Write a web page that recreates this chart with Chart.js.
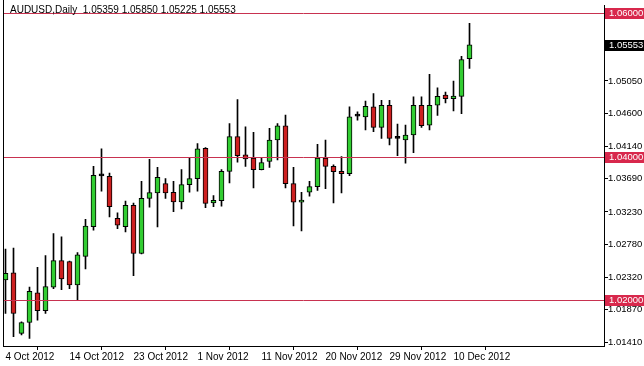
<!DOCTYPE html>
<html>
<head>
<meta charset="utf-8">
<title>AUDUSD Daily</title>
<script src="https://cdn.jsdelivr.net/npm/chart.js@4.4.0/dist/chart.umd.min.js"></script>
<style>
  html, body { margin: 0; padding: 0; background: #ffffff; }
  #wrap { width: 644px; height: 366px; }
</style>
</head>
<body>
<div id="wrap"><canvas id="priceChart" width="644" height="366"></canvas></div>
<script>
// Chart data (one entry per daily bar).
const symbol = 'AUDUSD,Daily';

const dates = [
  '4 Oct 2012', '5 Oct 2012', '7 Oct 2012', '8 Oct 2012', '9 Oct 2012', '10 Oct 2012', '11 Oct 2012', '12 Oct 2012',
  '14 Oct 2012', '15 Oct 2012', '16 Oct 2012', '17 Oct 2012', '18 Oct 2012', '19 Oct 2012', '21 Oct 2012', '22 Oct 2012',
  '23 Oct 2012', '24 Oct 2012', '25 Oct 2012', '26 Oct 2012', '28 Oct 2012', '29 Oct 2012', '30 Oct 2012', '31 Oct 2012',
  '1 Nov 2012', '2 Nov 2012', '4 Nov 2012', '5 Nov 2012', '6 Nov 2012', '7 Nov 2012', '8 Nov 2012', '9 Nov 2012',
  '11 Nov 2012', '12 Nov 2012', '13 Nov 2012', '14 Nov 2012', '15 Nov 2012', '16 Nov 2012', '18 Nov 2012', '19 Nov 2012',
  '20 Nov 2012', '21 Nov 2012', '22 Nov 2012', '23 Nov 2012', '25 Nov 2012', '26 Nov 2012', '27 Nov 2012', '28 Nov 2012',
  '29 Nov 2012', '30 Nov 2012', '3 Dec 2012', '4 Dec 2012', '5 Dec 2012', '6 Dec 2012', '7 Dec 2012', '9 Dec 2012',
  '10 Dec 2012', '11 Dec 2012', '12 Dec 2012'
];

const opens = [
  1.02285, 1.02382, 1.01541, 1.01692, 1.02106, 1.01858, 1.02183, 1.02552, 1.02538, 1.02216,
  1.02611, 1.03025, 1.03730, 1.03724, 1.03141, 1.03025, 1.03320, 1.02652, 1.03417, 1.03494,
  1.03623, 1.03503, 1.03370, 1.03610, 1.03692, 1.04114, 1.03356, 1.03386, 1.03793, 1.04276,
  1.04023, 1.03977, 1.03817, 1.03931, 1.04230, 1.04428, 1.03623, 1.03366, 1.03503, 1.03582,
  1.03977, 1.03862, 1.03793, 1.03761, 1.04561, 1.04552, 1.04690, 1.04404, 1.04713, 1.04252,
  1.04230, 1.04299, 1.04713, 1.04437, 1.04713, 1.04855, 1.04804, 1.04837, 1.05359
];

const highs = [
  1.02713, 1.02727, 1.01701, 1.02183, 1.02459, 1.02621, 1.02928, 1.02883, 1.02545, 1.02666,
  1.03127, 1.03862, 1.04106, 1.03770, 1.03218, 1.03379, 1.03352, 1.03655, 1.03959, 1.03848,
  1.03692, 1.03655, 1.03817, 1.03986, 1.04179, 1.04124, 1.03458, 1.03817, 1.04459, 1.04793,
  1.04414, 1.04335, 1.03977, 1.04390, 1.04459, 1.04575, 1.03848, 1.03503, 1.03655, 1.04170,
  1.04230, 1.03885, 1.04000, 1.04690, 1.04621, 1.04772, 1.04876, 1.04782, 1.04782, 1.04451,
  1.04437, 1.04828, 1.04828, 1.05141, 1.04956, 1.04897, 1.05048, 1.05393, 1.05850
];

const lows = [
  1.01817, 1.01494, 1.01521, 1.01472, 1.01724, 1.01817, 1.02161, 1.02148, 1.02161, 1.02010,
  1.02437, 1.02975, 1.03517, 1.03159, 1.02997, 1.02952, 1.02345, 1.02645, 1.03297, 1.03021,
  1.03417, 1.03232, 1.03273, 1.03503, 1.03517, 1.03290, 1.03301, 1.03310, 1.03632, 1.03921,
  1.03862, 1.03563, 1.03812, 1.03848, 1.03954, 1.03563, 1.03034, 1.02966, 1.03448, 1.03527,
  1.03554, 1.03356, 1.03494, 1.03734, 1.04506, 1.04368, 1.04345, 1.04252, 1.04161, 1.04010,
  1.03908, 1.04055, 1.04404, 1.04368, 1.04570, 1.04745, 1.04634, 1.04597, 1.05225
];

const closes = [
  1.02377, 1.01817, 1.01692, 1.02124, 1.01858, 1.02193, 1.02552, 1.02299, 1.02216, 1.02634,
  1.03034, 1.03738, 1.03730, 1.03301, 1.03044, 1.03320, 1.02652, 1.03417, 1.03499, 1.03710,
  1.03494, 1.03370, 1.03610, 1.03692, 1.04106, 1.03348, 1.03389, 1.03793, 1.04276, 1.04010,
  1.03968, 1.03817, 1.03917, 1.04230, 1.04428, 1.03623, 1.03366, 1.03393, 1.03582, 1.03977,
  1.03862, 1.03789, 1.03761, 1.04552, 1.04561, 1.04699, 1.04404, 1.04713, 1.04252, 1.04252,
  1.04299, 1.04713, 1.04428, 1.04713, 1.04837, 1.04804, 1.04841, 1.05348, 1.05553
];

// Price scale labels on the right axis
const priceTicks = [1.05050, 1.04600, 1.04140, 1.03690, 1.03230, 1.02780, 1.02320, 1.01870, 1.01410];
// Date labels every 8 bars
const dateTickIndex = [0, 8, 16, 24, 32, 40, 48, 56];
// Horizontal lines drawn on the chart
const levels = [1.06000, 1.04000, 1.02000];

const BULL = '#32cd32';
const BEAR = '#cd2020';
const LEVEL = '#c83250';
const LEVEL_BOX = '#d8284c';
const FONT = '"Liberation Sans", Arial, sans-serif';

// Visible window: 8px per bar, chart area 601px wide (3..604)
const X_MIN = -0.3125;
const X_MAX = X_MIN + 601 / 8;
// 1.06 sits at y=10, 0.02 spans 145px, chart area 3..346
const Y_MAX = 1.06 + 7 / 7250;
const Y_MIN = Y_MAX - 343 / 7250;

function bodyColor(i) {
  if (closes[i] > opens[i]) return BULL;
  if (closes[i] < opens[i]) return BEAR;
  return '#000000';
}

/**
 * Draws the level lines, header text, frame and price boxes on top of the chart.
 */
const overlayPlugin = {
  id: 'overlay',
  afterDatasetsDraw(chart) {
    const ctx = chart.ctx;
    const area = chart.chartArea;
    const yScale = chart.scales.y;
    ctx.save();

    // horizontal level lines
    ctx.strokeStyle = LEVEL;
    ctx.lineWidth = 1;
    levels.forEach(level => {
      const py = Math.round(yScale.getPixelForValue(level)) + 0.5;
      ctx.beginPath();
      ctx.moveTo(area.left, py);
      ctx.lineTo(area.right, py);
      ctx.stroke();
    });

    // left frame line
    ctx.strokeStyle = '#000000';
    ctx.beginPath();
    ctx.moveTo(area.left + 0.5, 0);
    ctx.lineTo(area.left + 0.5, area.bottom);
    ctx.stroke();

    // header with last bar OHLC
    const last = closes.length - 1;
    const header = symbol + '  ' + [opens[last], highs[last], lows[last], closes[last]]
      .map(v => v.toFixed(5)).join(' ');
    ctx.fillStyle = '#000000';
    ctx.font = '10px ' + FONT;
    ctx.textBaseline = 'middle';
    ctx.textAlign = 'left';
    ctx.fillText(header, 10, 10);

    // price boxes on the right axis
    ctx.font = '9.5px ' + FONT;
    const boxes = levels.map(v => ({ value: v, color: LEVEL_BOX }));
    boxes.push({ value: closes[last], color: '#000000' });
    boxes.forEach(b => {
      const py = Math.round(yScale.getPixelForValue(b.value));
      ctx.fillStyle = b.color;
      ctx.fillRect(area.right + 1, py - 5, chart.width - area.right - 1, 11);
      ctx.fillStyle = '#ffffff';
      ctx.fillText(b.value.toFixed(5), area.right + 5, py + 0.5);
    });

    ctx.restore();
  }
};

/**
 * Builds the candlestick chart from floating bars: thin bars for the high-low range,
 * wider bars for the open-close body.
 */
function renderChart() {
  const wickData = dates.map((d, i) => ({ x: i, y: [lows[i], highs[i]] }));
  const bodyData = dates.map((d, i) => ({ x: i, y: [opens[i], closes[i]] }));

  const ctx = document.getElementById('priceChart').getContext('2d');
  new Chart(ctx, {
    type: 'bar',
    data: {
      datasets: [
        {
          label: 'High-Low',
          data: wickData,
          backgroundColor: '#000000',
          borderWidth: 0,
          barThickness: 1,
          grouped: false,
          order: 2
        },
        {
          label: 'Open-Close',
          data: bodyData,
          backgroundColor: dates.map((d, i) => bodyColor(i)),
          borderColor: '#000000',
          borderWidth: 1,
          borderSkipped: false,
          barThickness: 5,
          minBarLength: 2,
          grouped: false,
          order: 1
        }
      ]
    },
    options: {
      responsive: false,
      animation: false,
      devicePixelRatio: 1,
      layout: { padding: { left: 3, top: 3, right: 0, bottom: 0 } },
      plugins: {
        legend: { display: false },
        tooltip: { enabled: false }
      },
      scales: {
        x: {
          type: 'linear',
          min: X_MIN,
          max: X_MAX,
          offset: false,
          afterBuildTicks: s => { s.ticks = dateTickIndex.map(i => ({ value: i })); },
          afterFit: s => { s.height = 20; },
          grid: { drawOnChartArea: false, drawTicks: true, tickLength: 4, color: '#000000' },
          border: { display: true, color: '#000000' },
          ticks: {
            align: 'start',
            maxRotation: 0,
            autoSkip: false,
            padding: 1,
            color: '#000000',
            font: { family: FONT, size: 10 },
            callback: v => dates[v] || ''
          }
        },
        y: {
          type: 'linear',
          position: 'right',
          min: Y_MIN,
          max: Y_MAX,
          afterBuildTicks: s => { s.ticks = priceTicks.map(v => ({ value: v })); },
          afterFit: s => { s.width = 40; },
          grid: { drawOnChartArea: false, drawTicks: true, tickLength: 4, color: '#000000' },
          border: { display: true, color: '#000000' },
          ticks: {
            padding: 0,
            color: '#000000',
            font: { family: FONT, size: 9.5 },
            callback: v => Number(v).toFixed(5)
          }
        }
      }
    },
    plugins: [overlayPlugin]
  });
}

document.addEventListener('DOMContentLoaded', renderChart);
</script>
</body>
</html>
